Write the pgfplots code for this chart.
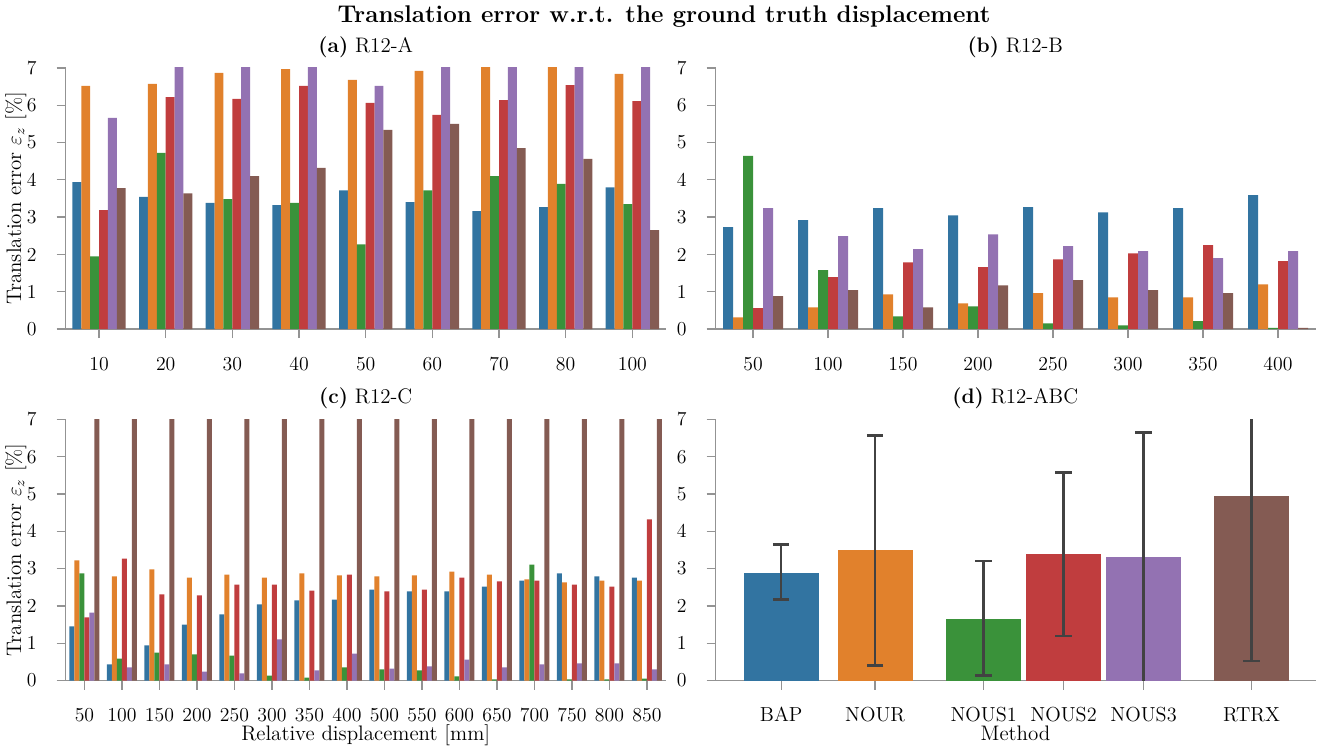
\documentclass[border=0pt]{standalone}
\usepackage{fontspec}
\usepackage{pgfplots}
\usepackage{pgfplotstable}
\pgfplotsset{compat=1.18}

\definecolor{cA}{HTML}{3274A1}
\definecolor{cB}{HTML}{E1812C}
\definecolor{cC}{HTML}{3A923A}
\definecolor{cD}{HTML}{C03D3E}
\definecolor{cE}{HTML}{9372B2}
\definecolor{cF}{HTML}{845B53}
\definecolor{spine}{HTML}{939393}
\definecolor{errc}{HTML}{424242}

% panel (a) R12-A
\pgfplotstableread{
x A B C D E F
0 3.94 6.52 1.95 3.19 5.66 3.78
1 3.54 6.57 4.72 6.22 7.50 3.64
2 3.38 6.87 3.48 6.17 7.50 4.10
3 3.32 6.97 3.38 6.52 7.50 4.32
4 3.72 6.68 2.27 6.06 6.52 5.34
5 3.40 6.92 3.72 5.74 7.50 5.50
6 3.16 7.50 4.10 6.14 7.50 4.85
7 3.27 7.50 3.89 6.54 7.50 4.56
8 3.80 6.84 3.35 6.11 7.50 2.65
}\tabA
% panel (b) R12-B
\pgfplotstableread{
x A B C D E F
0 2.73 0.31 4.64 0.56 3.24 0.88
1 2.92 0.58 1.58 1.39 2.49 1.04
2 3.24 0.93 0.34 1.79 2.14 0.58
3 3.05 0.69 0.61 1.66 2.54 1.17
4 3.27 0.96 0.15 1.87 2.22 1.31
5 3.13 0.85 0.10 2.03 2.09 1.04
6 3.24 0.85 0.21 2.25 1.90 0.96
7 3.59 1.20 0.03 1.82 2.09 0.03
}\tabB
% panel (c) R12-C
\pgfplotstableread{
x A B C D E F
0 1.45 3.22 2.87 1.69 1.82 7.50
1 0.43 2.79 0.59 3.27 0.35 7.50
2 0.94 2.98 0.75 2.31 0.43 7.50
3 1.50 2.76 0.70 2.28 0.24 7.50
4 1.77 2.84 0.67 2.57 0.19 7.50
5 2.04 2.76 0.13 2.57 1.10 7.50
6 2.15 2.87 0.08 2.41 0.27 7.50
7 2.17 2.82 0.35 2.84 0.72 7.50
8 2.44 2.79 0.30 2.39 0.32 7.50
9 2.39 2.82 0.27 2.44 0.38 7.50
10 2.39 2.92 0.11 2.76 0.56 7.50
11 2.52 2.84 0.03 2.66 0.35 7.50
12 2.68 2.71 3.11 2.68 0.43 7.50
13 2.87 2.63 0.03 2.57 0.46 7.50
14 2.79 2.68 0.03 2.52 0.46 7.50
15 2.76 2.68 0.05 4.32 0.30 7.50
}\tabC

\pgfplotsset{
  panel/.style={
    scale only axis, width=342.84pt, height=149.2pt, anchor=south west,
    axis x line*=bottom, axis y line*=left,
    axis line style={spine, line width=0.75pt},
    tick align=outside, major tick length=5.14pt,
    tick style={spine, line width=0.75pt},
    ymin=0, ymax=7, ytick={0,1,...,7},
    /pgf/number format/assume math mode=true,
    ticklabel style={font=\fontsize{11.3}{13}\selectfont},
    yticklabel style={anchor=east, inner sep=0pt},
    yticklabel shift=11.26pt,
    xticklabel style={anchor=base, inner sep=0pt},
    xticklabel shift=18.3pt,
    xlabel style={at={(axis description cs:0.5,0)}, anchor=base, yshift=-34pt, font=\fontsize{12}{14}\selectfont},
    clip=true,
  },
  hue/.style={ybar, bar width=0.13333, draw=none},
  dbar/.style={ybar, bar width=0.751, bar shift=0, draw=none,
    error bars/y dir=both, error bars/y explicit,
    error bars/error bar style={line width=1.4pt, color=errc},
    error bars/error mark options={rotate=90, mark size=4.7pt, line width=1.4pt, color=errc}},
}
\tikzset{ttl/.style={anchor=base, font=\fontsize{12}{14}\selectfont}}

\begin{document}
\begin{tikzpicture}
\path[use as bounding box] (0pt,0pt) rectangle (758.82pt,-426.84pt);
\node[anchor=base, font=\bfseries\fontsize{13.8}{16}\selectfont] at (379.41pt,-12.97pt)
  {Translation error w.r.t. the ground truth displacement};

% (a)
\begin{axis}[panel, at={(37.54pt,-188.0pt)},
  xmin=-0.5, xmax=8.5, xtick={0,...,8},
  xticklabels={10,20,30,40,50,60,70,80,100}]
\addplot[hue, bar shift=-0.33333, fill=cA] table[x=x,y=A] {\tabA};
\addplot[hue, bar shift=-0.2, fill=cB] table[x=x,y=B] {\tabA};
\addplot[hue, bar shift=-0.06667, fill=cC] table[x=x,y=C] {\tabA};
\addplot[hue, bar shift=0.06667, fill=cD] table[x=x,y=D] {\tabA};
\addplot[hue, bar shift=0.2, fill=cE] table[x=x,y=E] {\tabA};
\addplot[hue, bar shift=0.33333, fill=cF] table[x=x,y=F] {\tabA};
\end{axis}

% (b)
\begin{axis}[panel, at={(408.84pt,-188.0pt)},
  xmin=-0.5, xmax=7.5, xtick={0,...,7},
  xticklabels={50,100,150,200,250,300,350,400}]
\addplot[hue, bar shift=-0.33333, fill=cA] table[x=x,y=A] {\tabB};
\addplot[hue, bar shift=-0.2, fill=cB] table[x=x,y=B] {\tabB};
\addplot[hue, bar shift=-0.06667, fill=cC] table[x=x,y=C] {\tabB};
\addplot[hue, bar shift=0.06667, fill=cD] table[x=x,y=D] {\tabB};
\addplot[hue, bar shift=0.2, fill=cE] table[x=x,y=E] {\tabB};
\addplot[hue, bar shift=0.33333, fill=cF] table[x=x,y=F] {\tabB};
\end{axis}

% (c)
\begin{axis}[panel, at={(37.54pt,-388.84pt)},
  xmin=-0.5, xmax=15.5, xtick={0,...,15},
  xticklabels={50,100,150,200,250,300,350,400,500,550,600,650,700,750,800,850},
  xlabel={Relative displacement [mm]}]
\addplot[hue, bar shift=-0.33333, fill=cA] table[x=x,y=A] {\tabC};
\addplot[hue, bar shift=-0.2, fill=cB] table[x=x,y=B] {\tabC};
\addplot[hue, bar shift=-0.06667, fill=cC] table[x=x,y=C] {\tabC};
\addplot[hue, bar shift=0.06667, fill=cD] table[x=x,y=D] {\tabC};
\addplot[hue, bar shift=0.2, fill=cE] table[x=x,y=E] {\tabC};
\addplot[hue, bar shift=0.33333, fill=cF] table[x=x,y=F] {\tabC};
\end{axis}

% (d)
\begin{axis}[panel, at={(408.84pt,-388.84pt)},
  xmin=0, xmax=6,
  xtick={0.657,1.596,2.682,3.481,4.281,5.36},
  xticklabels={BAP,NOUR,NOUS1,NOUS2,NOUS3,RTRX},
  xticklabel style={font=\fontsize{11.6}{13}\selectfont},
  xlabel={Method}]
\addplot[fill=cA, dbar] coordinates {(0.657,2.89) += (0,0.76) -= (0,0.72)};
\addplot[fill=cB, dbar] coordinates {(1.596,3.49) += (0,3.08) -= (0,3.09)};
\addplot[fill=cC, dbar] coordinates {(2.682,1.66) += (0,1.55) -= (0,1.53)};
\addplot[fill=cD, dbar] coordinates {(3.481,3.38) += (0,2.20) -= (0,2.18)};
\addplot[fill=cE, dbar] coordinates {(4.281,3.30) += (0,3.35) -= (0,3.35)};
\addplot[fill=cF, dbar] coordinates {(5.36,4.96) += (0,4.44) -= (0,4.44)};
\end{axis}

% panel titles
\node[ttl] at (208.96pt,-29.71pt) {\textbf{(a)} R12-A};
\node[ttl] at (580.12pt,-29.71pt) {\textbf{(b)} R12-B};
\node[ttl] at (208.96pt,-230.27pt) {\textbf{(c)} R12-C};
\node[ttl] at (580.12pt,-230.27pt) {\textbf{(d)} R12-ABC};
% y labels
\node[rotate=90, anchor=center, font=\fontsize{12}{14}\selectfont] at (9.14pt,-113.42pt)
  {Translation error $\varepsilon_z$ [\%]};
\node[rotate=90, anchor=center, font=\fontsize{12}{14}\selectfont] at (9.14pt,-314.13pt)
  {Translation error $\varepsilon_z$ [\%]};
\end{tikzpicture}
\end{document}
